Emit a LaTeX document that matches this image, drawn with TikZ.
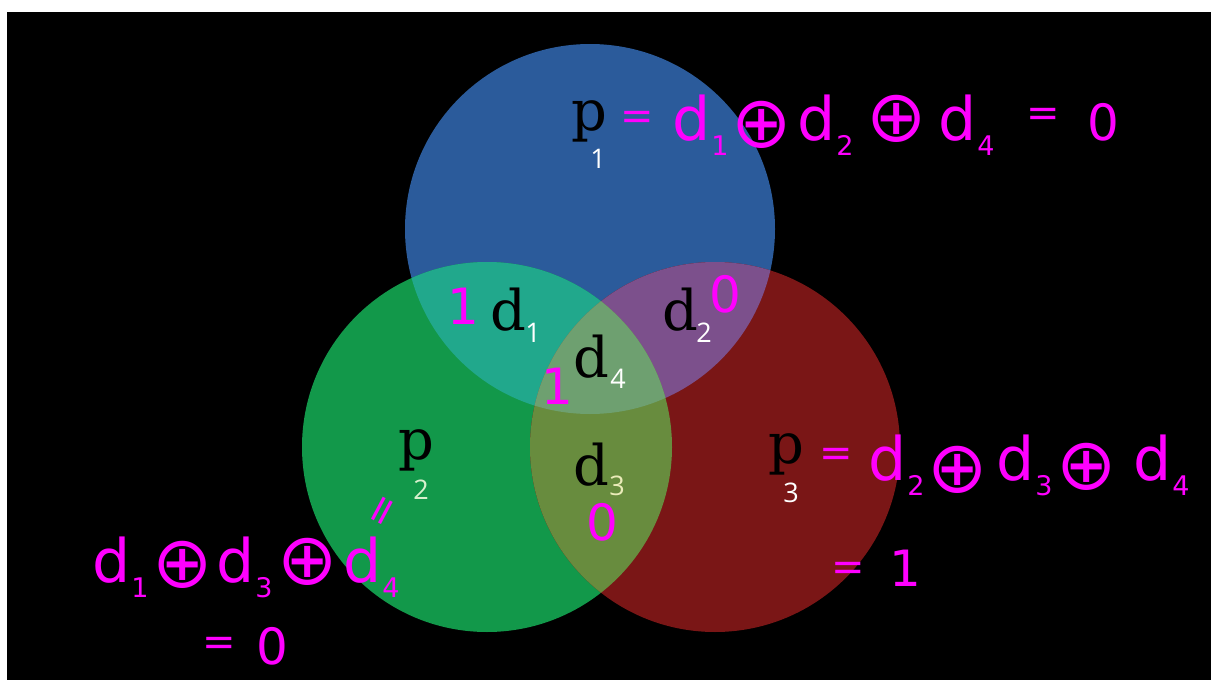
\documentclass[tikz,border=0pt]{standalone}
\usepackage{fontspec}
\setmainfont{DejaVu Serif}
\newfontfamily\subfont{Open Sans}
\newfontfamily\handfont{DejaVu Sans}
\usetikzlibrary{positioning,calc}

\definecolor{setblue}{RGB}{43,91,155}
\definecolor{setgreen}{RGB}{18,152,74}
\definecolor{setred}{RGB}{122,22,22}
\definecolor{bluegreen}{RGB}{33,168,140}
\definecolor{bluered}{RGB}{124,80,140}
\definecolor{greenred}{RGB}{104,140,62}
\definecolor{allthree}{RGB}{110,160,112}
\definecolor{penpink}{RGB}{255,0,255}
\newcommand{\hsub}[1]{\kern1pt\raisebox{-15pt}{\fontsize{27}{27}\selectfont #1}}

\begin{document}
\begin{tikzpicture}[
    x=1pt, y=-1pt,
    letter/.style={inner sep=0pt, anchor=base, text=black, font=\fontsize{56}{56}\selectfont},
    idx/.style={inner sep=0pt, anchor=base, text=white, font=\subfont\fontsize{27}{27}\selectfont},
    hand/.style={inner sep=0pt, text=penpink, font=\handfont\fontsize{50}{50}\selectfont},
    handd/.style={hand, anchor=base west, font=\handfont\fontsize{60}{60}\selectfont},
    equal/.style={hand, font=\handfont\fontsize{40}{40}\selectfont},
    oplus/.style={hand, font=\handfont\fontsize{72}{72}\selectfont}
  ]
  \useasboundingbox (0,0) rectangle (1211,680);
  \fill[white] (0,0) rectangle (1211,680);
  \fill[black] (7,12) rectangle (1211,680);

  % the three parity circles
  \coordinate (cb) at (590,229);
  \coordinate (cg) at (487,447);
  \coordinate (cr) at (715,447);
  \fill[setblue] (cb) circle[radius=185pt];
  \fill[setgreen] (cg) circle[radius=185pt];
  \fill[setred] (cr) circle[radius=185pt];
  \begin{scope}
    \clip (cb) circle[radius=185pt];
    \fill[bluegreen] (cg) circle[radius=185pt];
    \fill[bluered] (cr) circle[radius=185pt];
  \end{scope}
  \begin{scope}
    \clip (cg) circle[radius=185pt];
    \fill[greenred] (cr) circle[radius=185pt];
    \clip (cb) circle[radius=185pt];
    \fill[allthree] (cr) circle[radius=185pt];
  \end{scope}

  % bits and parities
  \node[letter] (p1) at (589,130) {p};
  \node[idx] (p1i) at (598,168) {1};
  \node[letter] (d1) at (508,330) {d};
  \node[idx] (d1i) at (533,342) {1};
  \node[letter] (d2) at (680,330) {d};
  \node[idx] (d2i) at (704,342) {2};
  \node[letter] (d4) at (591,377) {d};
  \node[idx] (d4i) at (618,388) {4};
  \node[letter] (d3) at (591,485) {d};
  \node[idx, text={rgb,255:red,235;green,235;blue,185}] (d3i) at (617,495) {3};
  \node[letter] (p2) at (416,459) {p};
  \node[idx, text={rgb,255:red,215;green,240;blue,205}] (p2i) at (421,499) {2};
  \node[letter] (p3) at (786,463) {p};
  \node[idx] (p3i) at (791,502) {3};

  % handwritten values
  \node[hand] (v1) at (463,306) {1};
  \node[hand] (v2) at (725,294) {0};
  \node[hand] (v4) at (557,386) {1};
  \node[hand] (v3) at (602,522) {0};

  % p1 = d1 + d2 + d4 = 0
  \node[equal] (ta) at (637,120) {=};
  \node[handd] (tb) at (672,140) {d\hsub{1}};
  \node[oplus] (tc) at (762,125) {⊕};
  \node[handd] (td) at (797,140) {d\hsub{2}};
  \node[oplus] (te) at (897,119) {⊕};
  \node[handd] (tf) at (938,140) {d\hsub{4}};
  \node[equal] (tg) at (1043,117) {=};
  \node[hand] (th) at (1103,122) {0};

  % p3 = d2 + d3 + d4 = 1
  \node[equal] (ra) at (836,457) {=};
  \node[handd] (rb) at (868,480) {d\hsub{2}};
  \node[oplus] (rc) at (958,470) {⊕};
  \node[handd] (rd) at (996,480) {d\hsub{3}};
  \node[oplus] (re) at (1087,467) {⊕};
  \node[handd] (rf) at (1133,480) {d\hsub{4}};
  \node[equal] (rg) at (848,571) {=};
  \node[hand] (rh) at (905,568) {1};

  % d1 + d3 + d4 = p2 = 0
  \node[handd] (la) at (92,582) {d\hsub{1}};
  \node[oplus] (lb) at (183,565) {⊕};
  \node[handd] (lc) at (216,582) {d\hsub{3}};
  \node[oplus] (ld) at (308,562) {⊕};
  \node[handd] (le) at (343,582) {d\hsub{4}};
  \node[equal, rotate=62] (lf) at (385,512) {=};
  \node[equal] (lg) at (219,646) {=};
  \node[hand] (lh) at (272,646) {0};
\end{tikzpicture}
\end{document}
